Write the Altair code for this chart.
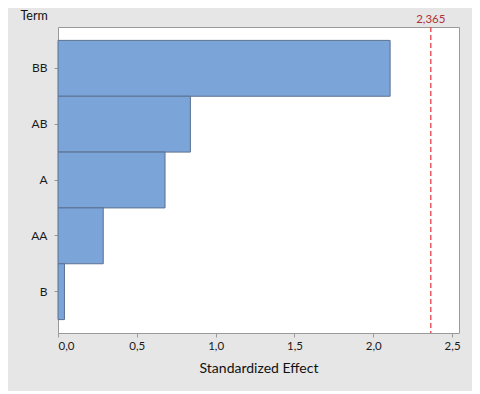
import altair as alt
import pandas as pd

terms = ["BB", "AB", "A", "AA", "B"]
effects = [2.107, 0.840, 0.679, 0.287, 0.041]
ref_value = 2.365
ref_label = "2,365"
x_ticks = [0.0, 0.5, 1.0, 1.5, 2.0, 2.5]

FONT = "Lato"

df = pd.DataFrame({"Term": terms, "Effect": effects})
ref_df = pd.DataFrame({"Effect": [ref_value], "lab": [ref_label]})

x_enc = alt.X(
    "Effect:Q",
    scale=alt.Scale(domain=[0, 2.544], nice=False, zero=True),
    axis=alt.Axis(
        values=x_ticks,
        title="Standardized Effect",
        labelExpr="replace(format(datum.value, '.1f'), '.', ',')",
        grid=False,
        domain=False,
        tickSize=4,
        tickColor="#9a9a9a",
        labelFontSize=11.5,
        labelColor="#1a1a1a",
        labelPadding=3,
        titleFontSize=14,
        titleFontWeight="normal",
        titleColor="#111111",
        titleY=35,
        titleBaseline="middle",
    ),
)

bars = alt.Chart(df).mark_bar(fill="#7ba4d9", stroke="#5b7190", strokeWidth=1).encode(
    x=x_enc,
    y=alt.Y(
        "Term:N",
        sort=terms,
        scale=alt.Scale(paddingInner=0, paddingOuter=0.24),
        axis=alt.Axis(
            title="Term",
            titleAngle=0,
            titleX=-38,
            titleY=-12,
            titleAlign="left",
            titleBaseline="middle",
            titleFontSize=12.5,
            titleFontWeight="normal",
            titleColor="#111111",
            domain=False,
            tickSize=4,
            tickColor="#9a9a9a",
            labelFontSize=12,
            labelColor="#1a1a1a",
            labelPadding=7,
        ),
    ),
)

rule = alt.Chart(ref_df).mark_rule(color="#e8414a", strokeDash=[5, 3], strokeWidth=1.3).encode(
    x="Effect:Q"
)

ref_text = alt.Chart(ref_df).mark_text(
    color="#b0303a", fontSize=11.5, baseline="bottom", align="center"
).encode(x="Effect:Q", y=alt.value(-2), text="lab:N")

chart = (
    alt.layer(bars, rule, ref_text)
    .properties(
        width=401,
        height=306,
        padding={"left": 50, "top": 19, "right": 13, "bottom": 58},
        autosize=alt.AutoSizeParams(type="none"),
        background="#e6e6e6",
    )
    .configure(font=FONT)
    .configure_view(fill="white", stroke="#9a9a9a")
)

chart.save("out.html", embed_options={"renderer": "svg", "actions": False})
